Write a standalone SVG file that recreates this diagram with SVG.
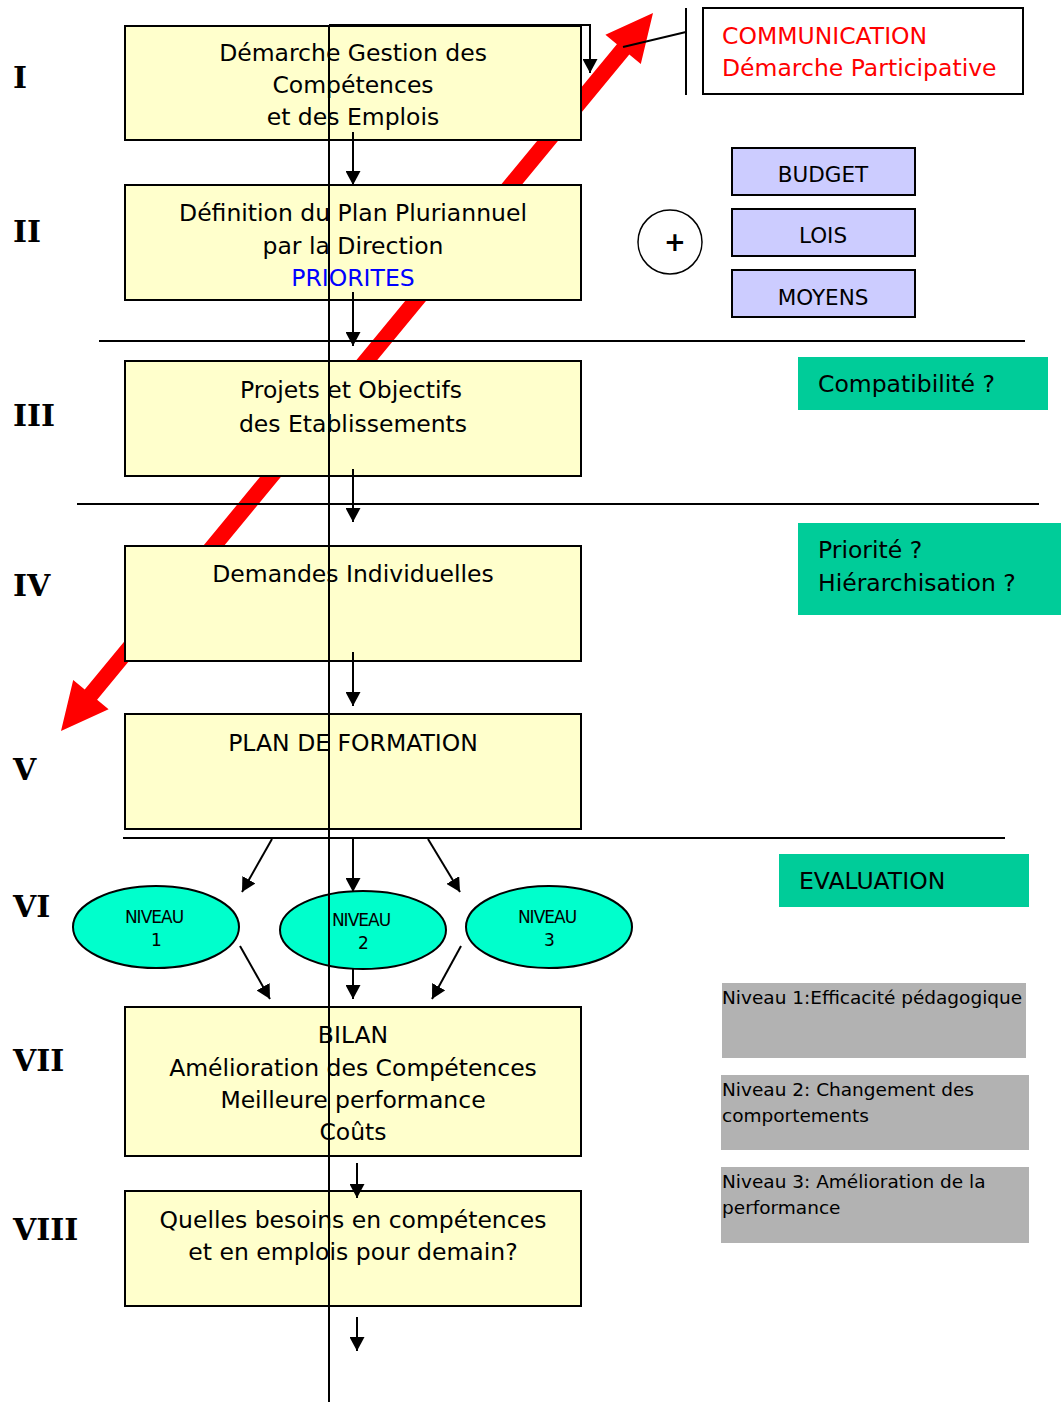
<svg xmlns="http://www.w3.org/2000/svg" width="1061" height="1402" viewBox="0 0 1061 1402">
<defs>
<marker id="ah" markerWidth="15" markerHeight="15" refX="14" refY="7.5" orient="auto" markerUnits="userSpaceOnUse">
<path d="M0,0 L14,7.5 L0,15 Z" fill="#000"/>
</marker>
<style>
.box{fill:#FFFFCC;stroke:#000;stroke-width:2}
.t{font-family:"DejaVu Sans",sans-serif;font-size:23.5px;fill:#000;text-anchor:middle}
.tl{font-family:"DejaVu Sans",sans-serif;font-size:23.5px;fill:#000}
.g{font-family:"DejaVu Sans",sans-serif;font-size:18.5px;fill:#000}
.p{font-family:"DejaVu Sans",sans-serif;font-size:21.5px;fill:#000;text-anchor:middle}
.rn{font-family:"DejaVu Serif",serif;font-weight:bold;font-size:30px;fill:#000}
.nv{font-family:"DejaVu Sans",sans-serif;font-size:17px;letter-spacing:-1px;fill:#000;text-anchor:middle}
.c{stroke:#000;stroke-width:2;fill:none}
.ca{stroke:#000;stroke-width:2;fill:none;marker-end:url(#ah)}
.green{fill:#00CC99}
.grey{fill:#B2B2B2}
.purple{fill:#CCCCFF;stroke:#000;stroke-width:2}
.ell{fill:#00FFCC;stroke:#000;stroke-width:2}
</style>
</defs>
<rect width="1061" height="1402" fill="#fff"/>

<g id="red-arrow">
<polygon fill="#FF0000" points="653,13 640.8,63.9 629.3,54.4 97.1,699.8 108.6,709.3 61,731 73.2,680.1 84.7,689.6 616.9,44.2 605.4,34.7"/>
</g>

<g id="roman">
<text class="rn" x="13" y="88">I</text>
<text class="rn" x="13" y="242">II</text>
<text class="rn" x="13" y="426">III</text>
<text class="rn" x="13" y="596">IV</text>
<text class="rn" x="13" y="780">V</text>
<text class="rn" x="13" y="917">VI</text>
<text class="rn" x="13" y="1071">VII</text>
<text class="rn" x="13" y="1240">VIII</text>
</g>

<g id="node-1">
<rect class="box" x="125" y="26" width="456" height="114"/>
<text class="t" x="353" y="61">Démarche Gestion des</text>
<text class="t" x="353" y="93">Compétences</text>
<text class="t" x="353" y="125">et des Emplois</text>
</g>
<g id="node-2">
<rect class="box" x="125" y="185" width="456" height="115"/>
<text class="t" x="353" y="221">Définition du Plan Pluriannuel</text>
<text class="t" x="353" y="254">par la Direction</text>
<text class="t" x="353" y="286" style="fill:#0000FF">PRIORITES</text>
</g>
<g id="node-3">
<rect class="box" x="125" y="361" width="456" height="115"/>
<text class="t" x="351" y="398">Projets et Objectifs</text>
<text class="t" x="353" y="432">des Etablissements</text>
</g>
<g id="node-4">
<rect class="box" x="125" y="546" width="456" height="115"/>
<text class="t" x="353" y="582">Demandes Individuelles</text>
</g>
<g id="node-5">
<rect class="box" x="125" y="714" width="456" height="115"/>
<text class="t" x="353" y="751">PLAN DE FORMATION</text>
</g>
<g id="node-7">
<rect class="box" x="125" y="1007" width="456" height="149"/>
<text class="t" x="353" y="1043">BILAN</text>
<text class="t" x="353" y="1076">Amélioration des Compétences</text>
<text class="t" x="353" y="1108">Meilleure performance</text>
<text class="t" x="353" y="1140">Coûts</text>
</g>
<g id="node-8">
<rect class="box" x="125" y="1191" width="456" height="115"/>
<text class="t" x="353" y="1228">Quelles besoins en compétences</text>
<text class="t" x="353" y="1260">et en emplois pour demain?</text>
</g>

<g id="niveau-1">
<ellipse class="ell" cx="156" cy="927" rx="83" ry="41"/>
<text class="nv" x="154" y="923">NIVEAU</text>
<text class="nv" x="156" y="946">1</text>
</g>
<g id="niveau-2">
<ellipse class="ell" cx="363" cy="930" rx="83" ry="39"/>
<text class="nv" x="361" y="926">NIVEAU</text>
<text class="nv" x="363" y="949">2</text>
</g>
<g id="niveau-3">
<ellipse class="ell" cx="549" cy="927" rx="83" ry="41"/>
<text class="nv" x="547" y="923">NIVEAU</text>
<text class="nv" x="549" y="946">3</text>
</g>

<g id="communication">
<line class="c" x1="686" y1="8" x2="686" y2="95"/>
<rect x="703" y="8" width="320" height="86" fill="#fff" stroke="#000" stroke-width="2"/>
<text class="tl" x="722" y="44" style="fill:#FF0000">COMMUNICATION</text>
<text class="tl" x="722" y="76" style="fill:#FF0000">Démarche Participative</text>
</g>

<g id="plus">
<circle cx="670" cy="242" r="32" fill="#fff" stroke="#000" stroke-width="1.5"/>
<text x="675" y="251" style="font-family:'DejaVu Sans',sans-serif;font-weight:bold;font-size:26px;text-anchor:middle">+</text>
</g>
<g id="budget">
<rect class="purple" x="732" y="148" width="183" height="47"/>
<text class="p" x="823" y="182">BUDGET</text>
</g>
<g id="lois">
<rect class="purple" x="732" y="209" width="183" height="47"/>
<text class="p" x="823" y="243">LOIS</text>
</g>
<g id="moyens">
<rect class="purple" x="732" y="270" width="183" height="47"/>
<text class="p" x="823" y="305">MOYENS</text>
</g>

<g id="compatibilite">
<rect class="green" x="798" y="357" width="250" height="53"/>
<text class="tl" x="818" y="392">Compatibilité ?</text>
</g>
<g id="priorite">
<rect class="green" x="798" y="523" width="263" height="92"/>
<text class="tl" x="818" y="558">Priorité ?</text>
<text class="tl" x="818" y="591">Hiérarchisation ?</text>
</g>
<g id="evaluation">
<rect class="green" x="779" y="854" width="250" height="53"/>
<text class="tl" x="799" y="889">EVALUATION</text>
</g>

<g id="eval-1">
<rect class="grey" x="722" y="983" width="304" height="75"/>
<text class="g" x="722" y="1004">Niveau 1:Efficacité pédagogique</text>
</g>
<g id="eval-2">
<rect class="grey" x="721" y="1075" width="308" height="75"/>
<text class="g" x="722" y="1096">Niveau 2: Changement des</text>
<text class="g" x="722" y="1122">comportements</text>
</g>
<g id="eval-3">
<rect class="grey" x="721" y="1167" width="308" height="76"/>
<text class="g" x="722" y="1188">Niveau 3: Amélioration de la</text>
<text class="g" x="722" y="1214">performance</text>
</g>

<g id="connectors">
<line class="c" x1="329" y1="25" x2="329" y2="1402"/>
<line class="c" x1="99" y1="341" x2="1025" y2="341"/>
<line class="c" x1="77" y1="504" x2="1039" y2="504"/>
<line class="c" x1="123" y1="838" x2="1005" y2="838"/>
<path class="ca" d="M329,25 H590 V73"/>
<line class="c" x1="623" y1="47" x2="686" y2="32"/>
<line class="ca" x1="353" y1="132" x2="353" y2="185"/>
<line class="ca" x1="353" y1="292" x2="353" y2="346"/>
<line class="ca" x1="353" y1="469" x2="353" y2="522"/>
<line class="ca" x1="353" y1="652" x2="353" y2="706"/>
<line class="ca" x1="272" y1="839" x2="242" y2="892"/>
<line class="ca" x1="353" y1="839" x2="353" y2="892"/>
<line class="ca" x1="428" y1="839" x2="460" y2="892"/>
<line class="ca" x1="240" y1="946" x2="270" y2="999"/>
<line class="ca" x1="353" y1="969" x2="353" y2="999"/>
<line class="ca" x1="461" y1="946" x2="432" y2="999"/>
<line class="ca" x1="357" y1="1163" x2="357" y2="1198"/>
<line class="ca" x1="357" y1="1317" x2="357" y2="1351"/>
</g>
</svg>
